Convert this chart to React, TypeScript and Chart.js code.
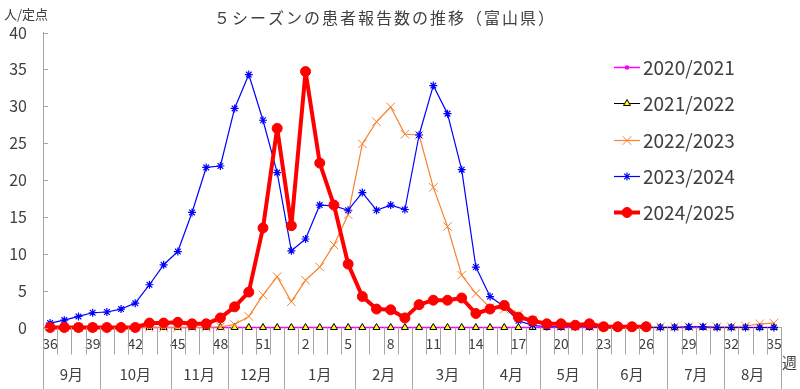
import React, { useEffect, useRef } from 'react';
import { Chart, registerables } from 'chart.js';
import { drawPoint } from 'chart.js/helpers';

Chart.register(...registerables);

// ---- data ----
const weeks = [
  '36', '37', '38', '39', '40', '41', '42', '43', '44', '45', '46', '47', '48', '49', '50', '51', '52',
  '1', '2', '3', '4', '5', '6', '7', '8', '9', '10', '11', '12', '13', '14', '15', '16', '17', '18',
  '19', '20', '21', '22', '23', '24', '25', '26', '27', '28', '29', '30', '31', '32', '33', '34', '35',
];
const labelEvery = 3;
const monthNames = ['9月', '10月', '11月', '12月', '1月', '2月', '3月', '4月', '5月', '6月', '7月', '8月'];
const monthWeekCounts = [4, 5, 4, 4, 5, 4, 5, 4, 4, 5, 4, 4];
const seriesNames = ['2020/2021', '2021/2022', '2022/2023', '2023/2024', '2024/2025'];

const s2020 = [
  0, 0, 0, 0, 0, 0, 0, 0, 0, 0, 0, 0, 0, 0, 0, 0, 0,
  0, 0, 0, 0, 0, 0, 0, 0, 0, 0, 0, 0, 0, 0, 0, 0, 0, 0,
  0, 0, 0, 0, 0, 0, 0, 0, 0, 0, 0, 0, 0, 0, 0, 0, 0,
];
const s2021 = [
  0, 0, 0, 0, 0, 0, 0, 0, 0, 0, 0, 0, 0, 0, 0, 0, 0,
  0, 0, 0, 0, 0, 0, 0, 0, 0, 0, 0, 0, 0, 0, 0, 0, 0, 0,
  0, 0, 0, 0, 0, 0, 0, 0, 0, 0, 0, 0, 0, 0, 0, 0, 0,
];
const s2022 = [
  0, 0, 0, 0, 0, 0, 0, 0, 0, 0, 0, 0, 0.1, 0.4, 1.5, 4.4, 6.9,
  3.5, 6.4, 8.2, 11.2, 15.3, 24.9, 27.9, 29.9, 26.2, 26.1, 19.0, 13.7, 7.1, 4.6, 2.7, 2.5, 1.8, 1.0,
  0.2, 0.1, 0.1, 0.1, 0.1, 0.1, 0.1, 0.1, 0.1, 0.1, 0.1, 0.1, 0.1, 0.1, 0.2, 0.5, 0.6,
];
const s2023 = [
  0.6, 1.0, 1.5, 2.0, 2.1, 2.5, 3.3, 5.8, 8.5, 10.3, 15.6, 21.7, 21.9, 29.7, 34.3, 28.1, 21.0,
  10.4, 12.0, 16.6, 16.5, 15.9, 18.3, 15.9, 16.6, 16.0, 26.1, 32.8, 29.0, 21.4, 8.2, 4.2, 2.8, 0.9, 0.3,
  0.1, 0.1, 0.1, 0.1, 0, 0, 0, 0, 0, 0, 0.1, 0.1, 0, 0, 0, 0, 0,
];
const s2024 = [
  0, 0, 0, 0, 0, 0, 0, 0.6, 0.6, 0.7, 0.5, 0.5, 1.3, 2.8, 4.8, 13.5, 27.0,
  13.8, 34.7, 22.3, 16.6, 8.6, 4.2, 2.5, 2.4, 1.3, 3.1, 3.7, 3.7, 4.0, 1.9, 2.5, 3.0, 1.4, 0.9,
  0.5, 0.5, 0.3, 0.5, 0.1, 0.1, 0.1, 0.1, null, null, null, null, null, null, null, null, null,
];

const titleText = '５シーズンの患者報告数の推移（富山県）';
const yUnitText = '人/定点';
const xUnitText = '週';

// ---- styles ----
const FONT = '"Noto Sans CJK JP", "Noto Sans", sans-serif';
const TEXT = '#404040';
const AXIS = '#a6a6a6';

const styles = [
  { line: '#FF00FF', lineWidth: 1.5, pointStyle: 'rect', radius: 2.2, fill: '#FF00FF', border: '#FF00FF', borderWidth: 1 },
  { line: '#000000', lineWidth: 1, pointStyle: 'triangle', radius: 4, fill: '#FFFF00', border: '#000000', borderWidth: 1 },
  { line: '#F7832F', lineWidth: 1.2, pointStyle: 'crossRot', radius: 6, fill: '#F7832F', border: '#F7832F', borderWidth: 1 },
  { line: '#0000FF', lineWidth: 1.2, pointStyle: 'star', radius: 4, fill: '#0000FF', border: '#0000FF', borderWidth: 1.2 },
  { line: '#FF0000', lineWidth: 4, pointStyle: 'circle', radius: 5, fill: '#FF0000', border: '#FF0000', borderWidth: 1 },
];

const decorPlugin = {
  id: 'decor',
  afterDraw(chart: any) {
    const { ctx, chartArea: ca } = chart;
    const x = chart.scales.x;
    const y = chart.scales.y;
    const H = chart.height;
    ctx.save();
    ctx.strokeStyle = AXIS;
    ctx.lineWidth = 1;
    const vline = (px: number, y0: number, y1: number) => {
      const p = Math.round(px) + 0.5;
      ctx.beginPath();
      ctx.moveTo(p, y0);
      ctx.lineTo(p, y1);
      ctx.stroke();
    };
    // y inner tick marks
    y.ticks.forEach((_t: any, i: number) => {
      const py = Math.round(y.getPixelForTick(i)) + 0.5;
      ctx.beginPath();
      ctx.moveTo(ca.left, py);
      ctx.lineTo(ca.left + 5, py);
      ctx.stroke();
    });
    // category boundary ticks
    const step = x.getPixelForValue(1) - x.getPixelForValue(0);
    const b0 = x.getPixelForValue(0) - step / 2;
    for (let i = 1; i <= weeks.length; i++) {
      vline(b0 + i * step, ca.bottom, ca.bottom + 27);
    }
    // month separators and labels
    vline(ca.left, ca.bottom, H);
    let acc = 0;
    ctx.fillStyle = TEXT;
    ctx.font = `15px ${FONT}`;
    ctx.textAlign = 'center';
    ctx.textBaseline = 'middle';
    monthWeekCounts.forEach((n, m) => {
      const start = b0 + acc * step;
      acc += n;
      const end = b0 + acc * step;
      vline(end, ca.bottom, H);
      ctx.fillText(monthNames[m], (start + end) / 2, 374);
    });
    // unit labels
    ctx.font = `15px ${FONT}`;
    ctx.textAlign = 'left';
    ctx.fillText(xUnitText, 782, 362);
    ctx.font = `13px ${FONT}`;
    ctx.fillText(yUnitText, 4, 14.5);
    // title
    ctx.font = `16px ${FONT}`;
    (ctx as any).letterSpacing = '2px';
    ctx.textAlign = 'center';
    ctx.fillText(titleText, 385, 17.5);
    (ctx as any).letterSpacing = '0px';
    // legend
    ctx.font = `19px ${FONT}`;
    ctx.textAlign = 'left';
    seriesNames.forEach((name, i) => {
      const st = styles[i];
      const ly = Math.round(67 + i * 36.3) + 0.5;
      ctx.strokeStyle = st.line;
      ctx.lineWidth = st.lineWidth;
      ctx.beginPath();
      ctx.moveTo(614, ly);
      ctx.lineTo(640, ly);
      ctx.stroke();
      ctx.fillStyle = st.fill;
      ctx.strokeStyle = st.border;
      ctx.lineWidth = st.borderWidth;
      drawPoint(ctx, { pointStyle: st.pointStyle, rotation: 0, radius: st.radius, borderWidth: st.borderWidth } as any, 627, ly);
      ctx.fillStyle = TEXT;
      ctx.fillText(name, 643, ly);
    });
    ctx.restore();
  },
};

function ds(label: string, data: (number | null)[], i: number, order: number, opts: any = {}) {
  const st = styles[i];
  return {
    label,
    data,
    order,
    borderColor: st.line,
    borderWidth: st.lineWidth,
    borderJoinStyle: 'round',
    borderCapStyle: 'round',
    pointStyle: st.pointStyle,
    pointRadius: st.radius,
    pointBackgroundColor: st.fill,
    pointBorderColor: st.border,
    pointBorderWidth: st.borderWidth,
    tension: 0,
    spanGaps: false,
    clip: false,
    ...opts,
  };
}

export default function App() {
  const ref = useRef<HTMLCanvasElement | null>(null);
  useEffect(() => {
    if (!ref.current) return;
    Chart.defaults.font.family = FONT;
    const chart = new Chart(ref.current, {
      type: 'line',
      data: {
        labels: weeks,
        datasets: [
          ds(seriesNames[0], s2020, 0, 4),
          ds(seriesNames[1], s2021, 1, 5, { pointRadius: 0 }),
          ds(seriesNames[1], s2021, 1, 3, { showLine: false }),
          ds(seriesNames[2], s2022, 2, 2),
          ds(seriesNames[3], s2023, 3, 1),
          ds(seriesNames[4], s2024, 4, 0),
        ] as any,
      },
      plugins: [decorPlugin],
      options: {
        responsive: false,
        devicePixelRatio: 1,
        animation: false,
        events: [],
        layout: { padding: { top: 32.5, right: 19, left: 0, bottom: 0 } },
        plugins: {
          legend: { display: false },
          title: { display: false },
          tooltip: { enabled: false },
        },
        scales: {
          x: {
            type: 'category',
            offset: true,
            grid: { display: true, offset: true, drawOnChartArea: false, drawTicks: false, color: AXIS },
            border: { display: true, color: AXIS, width: 1 },
            ticks: {
              autoSkip: false,
              maxRotation: 0,
              minRotation: 0,
              padding: 8,
              color: TEXT,
              font: { size: 14, family: FONT },
              callback: (_v: any, i: number) => (i % labelEvery === 0 ? weeks[i] : ''),
            },
            afterFit: (s: any) => { s.height = 61.5; },
          },
          y: {
            min: 0,
            max: 40,
            grid: { display: true, drawOnChartArea: false, drawTicks: false, color: AXIS },
            border: { display: true, color: AXIS, width: 1 },
            ticks: {
              stepSize: 5,
              padding: 16,
              color: TEXT,
              font: { size: 16, family: FONT },
            },
            afterFit: (s: any) => { s.width = 43; },
          },
        },
      } as any,
    });
    return () => chart.destroy();
  }, []);
  return (
    <div style={{ position: 'absolute', left: 0, top: 0, width: 800, height: 389, background: '#fff' }}>
      <canvas ref={ref} width={800} height={389} />
    </div>
  );
}
